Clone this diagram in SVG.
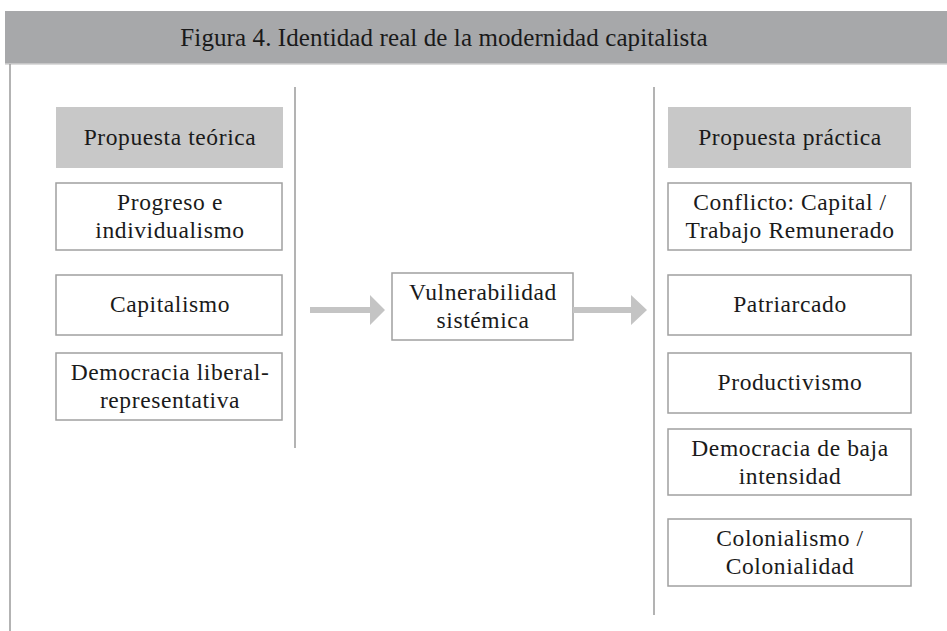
<svg xmlns="http://www.w3.org/2000/svg" width="947" height="631" viewBox="0 0 947 631">
<style>
.t{font-family:"Liberation Serif","DejaVu Serif",serif;font-size:23.5px;letter-spacing:0.6px;fill:#1a1a1a;text-anchor:middle}
.box{fill:#fff;stroke:#a0a0a0;stroke-width:1.5}
.hd{fill:#c8c8c8}
.ln{stroke:#9a9a9a;stroke-width:1.5;fill:none}
.ar{fill:#c4c4c4}
</style>
<rect width="947" height="631" fill="#fff"/>
<g id="header">
<rect x="5" y="11" width="942" height="53" fill="#a7a8aa"/>
<line x1="5" y1="64" x2="947" y2="64" stroke="#d0d0d0" stroke-width="1.5"/>
<text x="444" y="46" class="t" style="font-size:25px;letter-spacing:0.1px">Figura 4. Identidad real de la modernidad capitalista</text>
</g>
<g id="frame">
<line class="ln" x1="10" y1="64" x2="10" y2="631"/>
<line class="ln" x1="295" y1="87" x2="295" y2="448"/>
<line class="ln" x1="654" y1="87" x2="654" y2="615"/>
</g>
<g id="teorica"><rect class="hd" x="56" y="107" width="227" height="61"/><text class="t" x="170" y="145">Propuesta teórica</text></g>
<g id="progreso"><rect class="box" x="56" y="183" width="226" height="67"/><text class="t" x="170" y="210">Progreso e</text><text class="t" x="170" y="238">individualismo</text></g>
<g id="capitalismo"><rect class="box" x="56" y="275" width="226" height="60"/><text class="t" x="170" y="312">Capitalismo</text></g>
<g id="democracia-liberal"><rect class="box" x="56" y="353" width="226" height="67"/><text class="t" x="170" y="380">Democracia liberal-</text><text class="t" x="170" y="408">representativa</text></g>
<g id="vulnerabilidad"><rect class="box" x="392" y="273" width="181" height="67"/><text class="t" x="483" y="300">Vulnerabilidad</text><text class="t" x="483" y="328">sistémica</text></g>
<g id="practica"><rect class="hd" x="668" y="107" width="243" height="61"/><text class="t" x="790" y="145">Propuesta práctica</text></g>
<g id="conflicto"><rect class="box" x="668" y="183" width="243" height="67"/><text class="t" x="790" y="210">Conflicto: Capital /</text><text class="t" x="790" y="238">Trabajo Remunerado</text></g>
<g id="patriarcado"><rect class="box" x="668" y="275" width="243" height="60"/><text class="t" x="790" y="312">Patriarcado</text></g>
<g id="productivismo"><rect class="box" x="668" y="353" width="243" height="60"/><text class="t" x="790" y="390">Productivismo</text></g>
<g id="democracia-baja"><rect class="box" x="668" y="429" width="243" height="66"/><text class="t" x="790" y="456">Democracia de baja</text><text class="t" x="790" y="484">intensidad</text></g>
<g id="colonialismo"><rect class="box" x="668" y="519" width="243" height="67"/><text class="t" x="790" y="546">Colonialismo /</text><text class="t" x="790" y="574">Colonialidad</text></g>
<g id="connectors">
<polygon class="ar" points="310,307 370,307 370,295 385,310 370,325 370,313 310,313"/>
<polygon class="ar" points="573,307 631,307 631,295 647,310 631,325 631,313 573,313"/>
</g>
</svg>
